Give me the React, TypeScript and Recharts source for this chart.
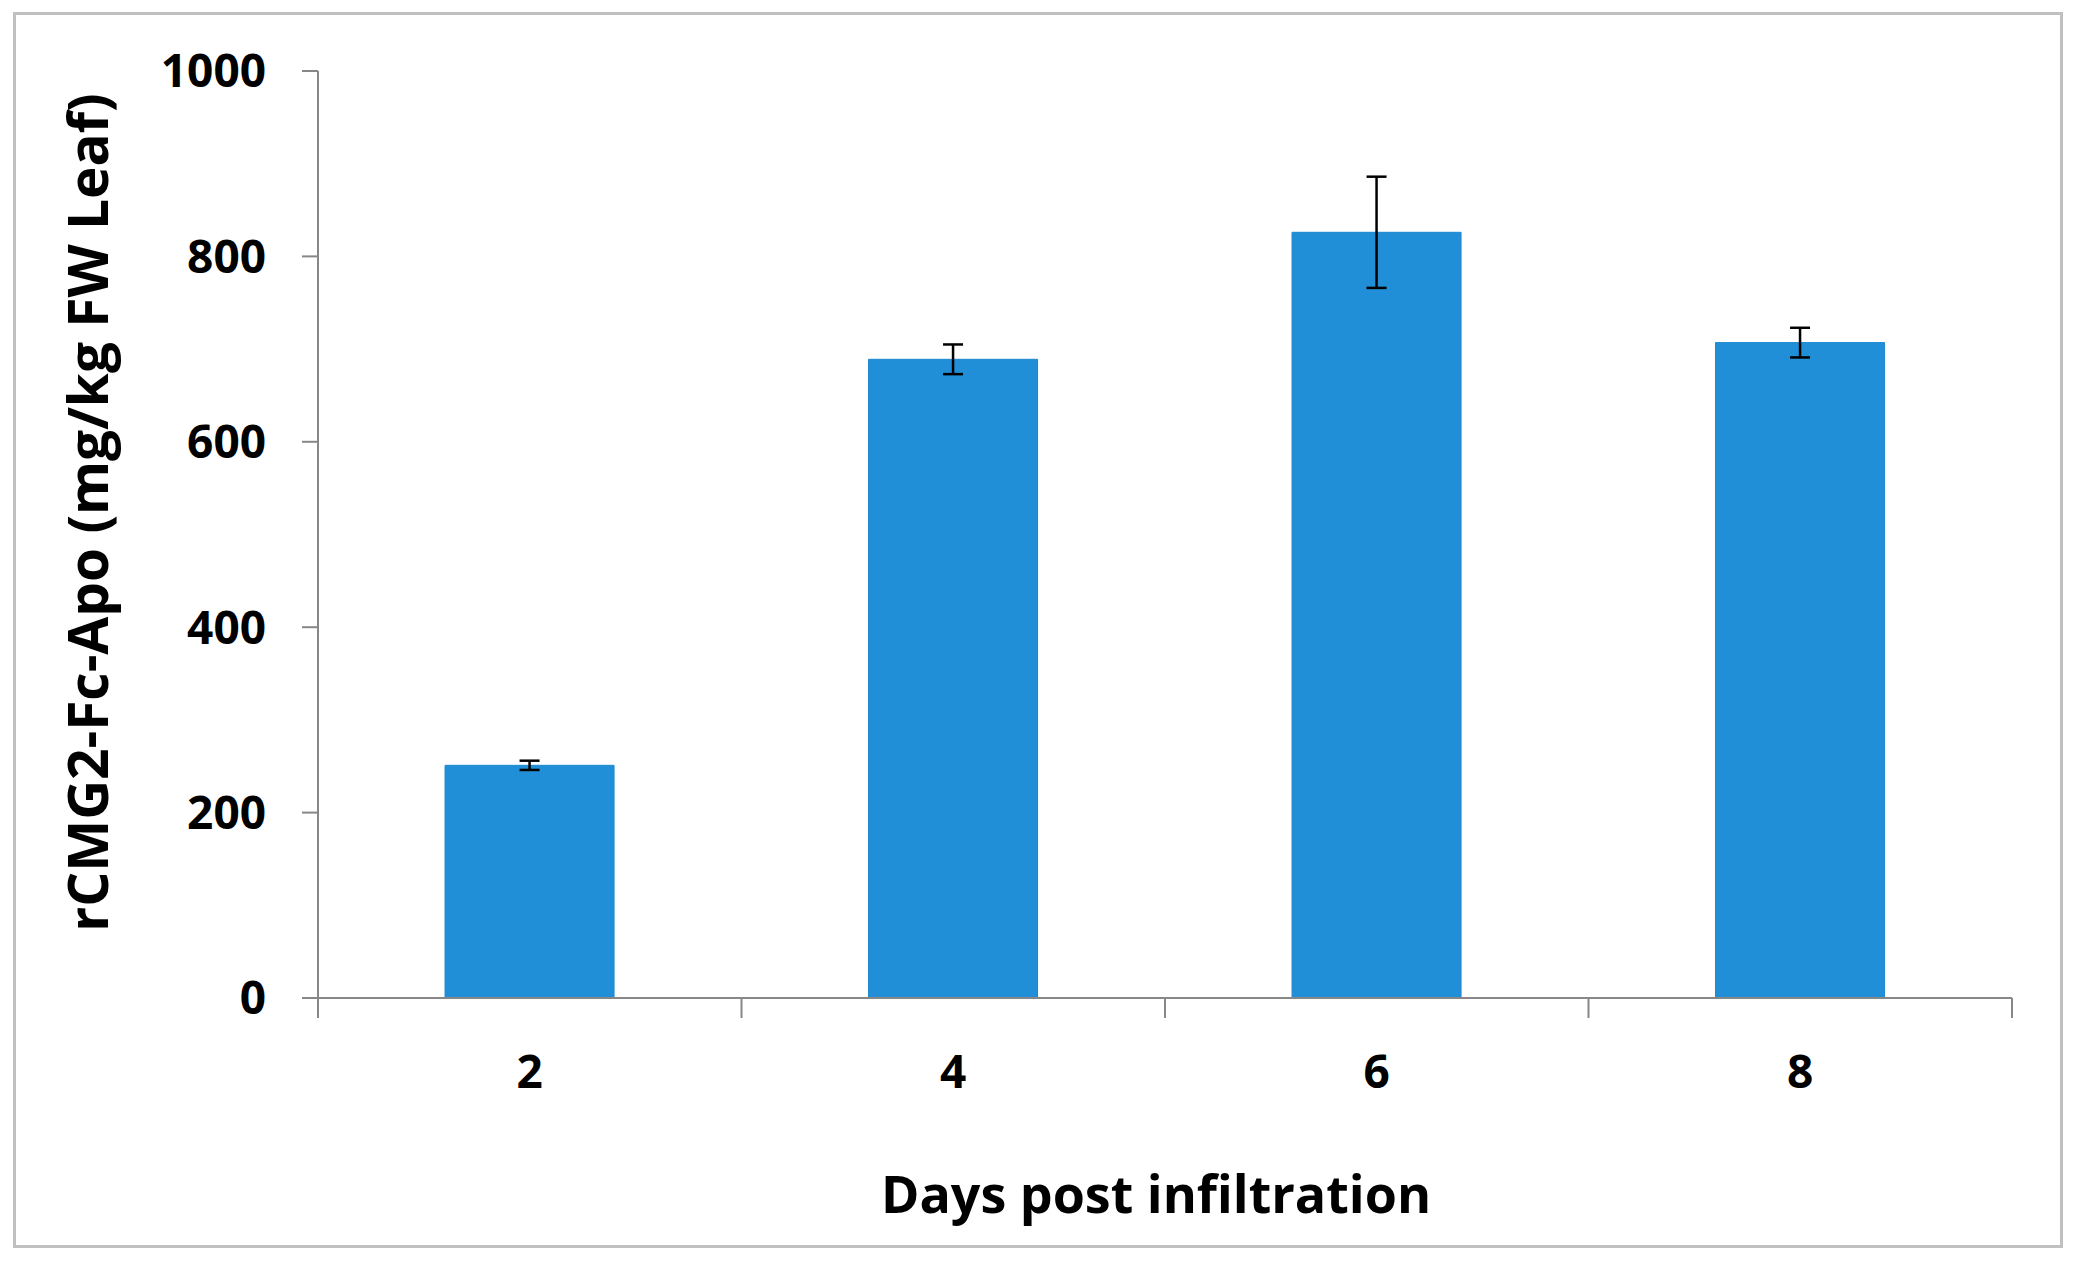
import { BarChart, Bar, XAxis, YAxis, ErrorBar } from 'recharts'

const days = ['2', '4', '6', '8']
const meanValues = [251, 689, 826, 707]
const errValues = [5, 16, 60, 16]
const yTicks = [0, 200, 400, 600, 800, 1000]

const data = days.map((d, i) => ({ day: d, value: meanValues[i], err: errValues[i] }))

const W = 2079
const H = 1261
const MARGIN = { top: 71, right: 67, bottom: 203, left: 118 }
const Y_AXIS_W = 200
const X_AXIS_H = 60
const PLOT_W = W - MARGIN.left - MARGIN.right - Y_AXIS_W
const BAND = PLOT_W / days.length
const X_TICK_SIZE = 20
const X_TICK_MARGIN = 37
const AXIS = '#878787'
const FONT = "'Open Sans', sans-serif"

const XTick = (props: any) => {
  const { x, y, payload, index } = props
  const axisY = y - X_TICK_SIZE - X_TICK_MARGIN
  const left = x - BAND / 2
  const right = x + BAND / 2
  return (
    <g>
      <line x1={left} x2={left} y1={axisY} y2={axisY + X_TICK_SIZE} stroke={AXIS} strokeWidth={2} />
      {index === days.length - 1 && (
        <line x1={right} x2={right} y1={axisY} y2={axisY + X_TICK_SIZE} stroke={AXIS} strokeWidth={2} />
      )}
      <text x={x} y={y} dy="0.71em" textAnchor="middle" fontSize={46} fontWeight={700} fontFamily={FONT} fill="#000">
        {payload.value}
      </text>
    </g>
  )
}

const YTitle = ({ viewBox }: any) => {
  const cx = viewBox.x - 10
  const cy = viewBox.y + viewBox.height / 2 - 22
  return (
    <text
      x={cx}
      y={cy}
      transform={`rotate(-90 ${cx} ${cy})`}
      textAnchor="middle"
      fontSize={55}
      fontWeight={700}
      fontFamily={FONT}
      fill="#000"
    >
      rCMG2-Fc-Apo (mg/kg FW Leaf)
    </text>
  )
}

const XTitle = ({ viewBox }: any) => (
  <text
    x={viewBox.x + viewBox.width / 2 - 9}
    y={viewBox.y + 215}
    textAnchor="middle"
    fontSize={52}
    fontWeight={700}
    fontFamily={FONT}
    fill="#000"
  >
    Days post infiltration
  </text>
)

export default function App() {
  return (
    <div style={{ position: 'absolute', left: 0, top: 0, width: W, height: H, background: '#fff' }}>
      <div
        style={{
          position: 'absolute',
          left: 13,
          top: 12,
          width: 2050,
          height: 1236,
          boxSizing: 'border-box',
          border: '3px solid #c0c0c0',
        }}
      />
      <div style={{ position: 'absolute', left: 0, top: 0 }}>
        <BarChart width={W} height={H} data={data} margin={MARGIN} barCategoryGap="30%">
          <XAxis
            dataKey="day"
            height={X_AXIS_H}
            axisLine={{ stroke: AXIS, strokeWidth: 2 }}
            tickLine={false}
            tickSize={X_TICK_SIZE}
            tickMargin={X_TICK_MARGIN}
            tick={<XTick />}
            interval={0}
            label={{ content: (p: any) => <XTitle viewBox={p.viewBox} /> }}
          />
          <YAxis
            width={Y_AXIS_W}
            domain={[0, 1000]}
            ticks={yTicks}
            interval={0}
            axisLine={{ stroke: AXIS, strokeWidth: 2 }}
            tickLine={{ stroke: AXIS, strokeWidth: 2 }}
            tickSize={16}
            tickMargin={36}
            tick={{ fontSize: 46, fontWeight: 700, fontFamily: FONT, fill: '#000' }}
            label={{ content: (p: any) => <YTitle viewBox={p.viewBox} /> }}
          />
          <Bar dataKey="value" fill="#218fd7" stroke="#1c87cf" strokeWidth={1} isAnimationActive={false}>
            <ErrorBar dataKey="err" width={10} stroke="#000" strokeWidth={2.5} direction="y" />
          </Bar>
        </BarChart>
      </div>
    </div>
  )
}
